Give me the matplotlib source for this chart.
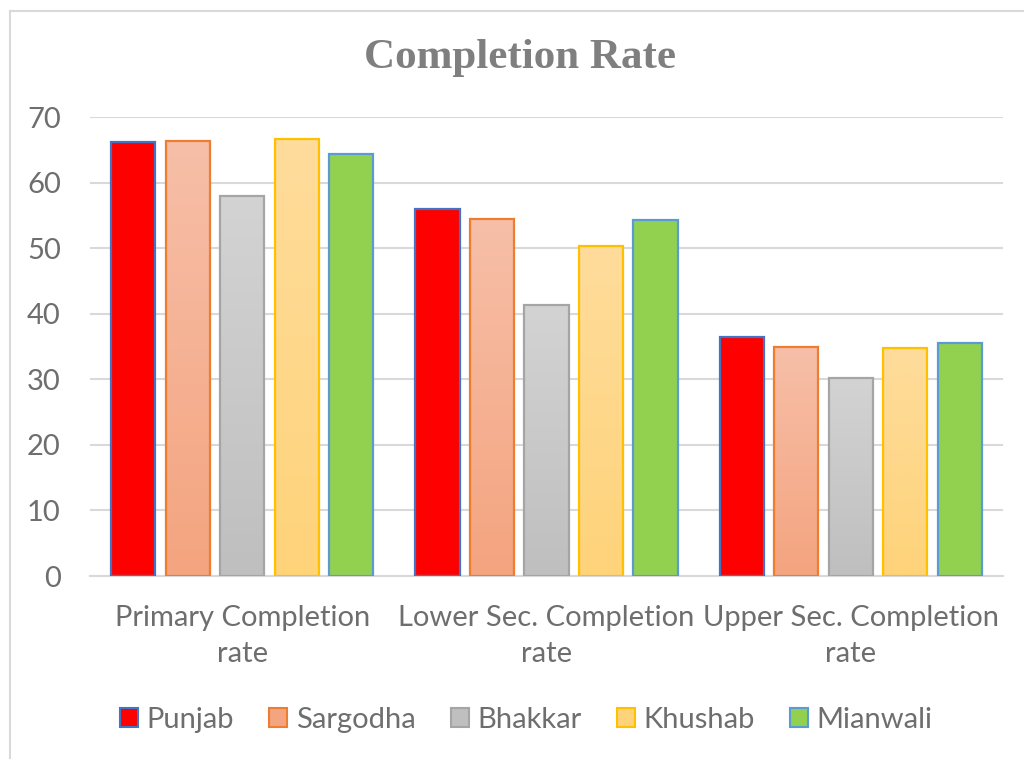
import numpy as np
import matplotlib
matplotlib.use("Agg")
import matplotlib.pyplot as plt
from matplotlib.patches import Rectangle
from matplotlib.lines import Line2D
from matplotlib.colors import LinearSegmentedColormap

categories = ["Primary Completion\nrate", "Lower Sec. Completion\nrate", "Upper Sec. Completion\nrate"]
districts = ["Punjab", "Sargodha", "Bhakkar", "Khushab", "Mianwali"]

punjab = [66.2, 56.0, 36.5]
sargodha = [66.4, 54.4, 34.9]
bhakkar = [57.9, 41.4, 30.2]
khushab = [66.6, 50.4, 34.7]
mianwali = [64.4, 54.3, 35.5]
series = [punjab, sargodha, bhakkar, khushab, mianwali]

# top colour, bottom colour, edge colour
fills = [("#FF0000", "#FF0000", "#4472C4"),
         ("#F7BFA8", "#F4A47F", "#ED7D31"),
         ("#D3D3D3", "#BFBFBF", "#A5A5A5"),
         ("#FEDC9B", "#FED37A", "#FFC000"),
         ("#92D050", "#92D050", "#5B9BD5")]

text_col = "#6E6E6E"
plt.rcParams["font.family"] = ["Lato", "DejaVu Sans"]

fig = plt.figure(figsize=(10.24, 7.59), dpi=100)
ax = fig.add_axes([0.0879, 0.2411, 0.8916, 0.6047])

x = np.arange(len(categories))
step = 0.179
width = 0.145

for i, vals in enumerate(series):
    top, bottom, edge = fills[i]
    pos = x + (i - 2) * step
    bars = ax.bar(pos, vals, width, color=top, edgecolor="none", zorder=2)
    if top != bottom:
        cmap = LinearSegmentedColormap.from_list("g%d" % i, [bottom, top])
        grad = np.linspace(1, 0, 100).reshape(-1, 1)
        for b in bars:
            im = ax.imshow(grad, cmap=cmap, aspect="auto", zorder=2.5,
                           extent=[b.get_x(), b.get_x() + b.get_width(), 0, b.get_height()])
            im.set_clip_path(b)
    ax.bar(pos, vals, width, facecolor="none", edgecolor=edge, linewidth=1.6, zorder=3)

ax.set_xlim(-0.5, 2.5)
ax.set_ylim(0, 70)
ax.set_yticks(range(0, 71, 10))
ax.set_xticks(x)
ax.set_xticklabels(categories, linespacing=1.48)
ax.yaxis.grid(True, color="#D9D9D9", linewidth=1.5, zorder=0)
ax.set_axisbelow(True)
for s in ["top", "right", "left"]:
    ax.spines[s].set_visible(False)
ax.spines["bottom"].set_color("#D9D9D9")
ax.spines["bottom"].set_linewidth(1.5)
ax.tick_params(axis="both", length=0, labelsize=21, labelcolor=text_col)
ax.tick_params(axis="x", pad=21)
ax.tick_params(axis="y", pad=21)

fig.text(520 / 1024, 1 - 58 / 759, "Completion Rate", ha="center", va="center",
         fontsize=31, fontweight="bold", color="#7F7F7F", family="Liberation Serif")

handles = [Rectangle((0, 0), 1, 1, facecolor=f[0] if f[0] == f[1] else f[1],
                     edgecolor=f[2], linewidth=1.5) for f in fills]
fig.legend(handles, districts, loc="center", bbox_to_anchor=(0.514, 1 - 720 / 759),
           ncol=5, frameon=False, fontsize=21, labelcolor=text_col,
           handlelength=0.62, handleheight=0.62, handletextpad=0.3, columnspacing=1.2)

# chart frame (only left and top edges fall inside the picture)
fig.lines.append(Line2D([10 / 1024, 10 / 1024], [0, 1 - 11 / 759], transform=fig.transFigure,
                        color="#D9D9D9", linewidth=1.5))
fig.lines.append(Line2D([10 / 1024, 1], [1 - 11 / 759, 1 - 11 / 759], transform=fig.transFigure,
                        color="#D9D9D9", linewidth=1.5))

fig.savefig("out.png", dpi=100)
